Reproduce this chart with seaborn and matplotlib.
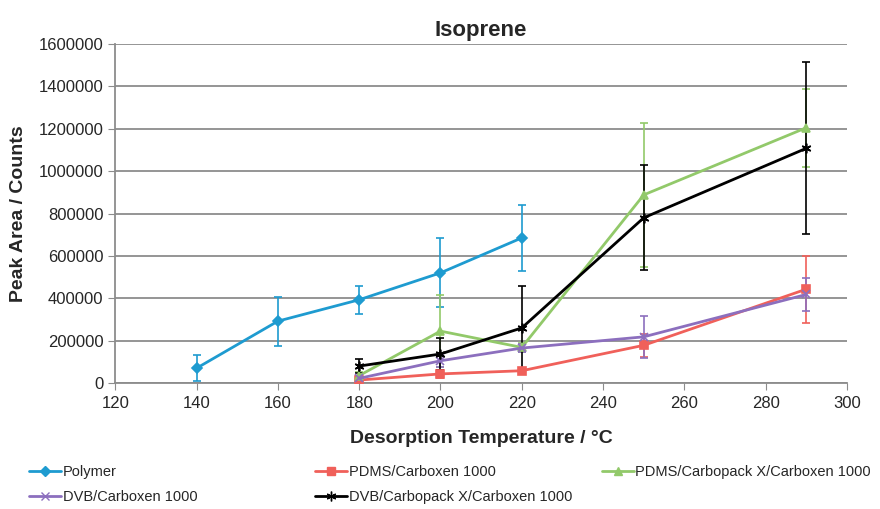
import numpy as np
import pandas as pd
import matplotlib
matplotlib.use("Agg")
import matplotlib.pyplot as plt
import seaborn as sns
from matplotlib.lines import Line2D

series_names = ["Polymer", "PDMS/Carboxen 1000", "PDMS/Carbopack X/Carboxen 1000",
                "DVB/Carboxen 1000", "DVB/Carbopack X/Carboxen 1000"]

polymer_x = [140, 160, 180, 200, 220]
polymer_y = [70000, 292000, 393000, 520000, 685000]
polymer_err = [60000, 115000, 65000, 163000, 157000]

pdms_cbx_x = [180, 200, 220, 250, 290]
pdms_cbx_y = [14000, 43000, 58000, 178000, 443000]
pdms_cbx_err = [8000, 20000, 10000, 55000, 158000]

pdms_cpx_x = [180, 200, 220, 250, 290]
pdms_cpx_y = [35000, 245000, 168000, 888000, 1205000]
pdms_cpx_err = [15000, 170000, 20000, 340000, 185000]

dvb_cbx_x = [180, 200, 220, 250, 290]
dvb_cbx_y = [22000, 105000, 165000, 218000, 418000]
dvb_cbx_err = [10000, 30000, 20000, 100000, 80000]

dvb_cpx_x = [180, 200, 220, 250, 290]
dvb_cpx_y = [80000, 137000, 260000, 780000, 1108000]
dvb_cpx_err = [35000, 75000, 200000, 248000, 405000]

colors = ["#1E9BD0", "#F0605A", "#92C96A", "#8C6FBE", "#000000"]
markers = ["D", "s", "^", "x", (6, 2, 0)]
msizes = [5, 6, 6, 6, 7]

xs = [polymer_x, pdms_cbx_x, pdms_cpx_x, dvb_cbx_x, dvb_cpx_x]
ys = [polymer_y, pdms_cbx_y, pdms_cpx_y, dvb_cbx_y, dvb_cpx_y]
errs = [polymer_err, pdms_cbx_err, pdms_cpx_err, dvb_cbx_err, dvb_cpx_err]

sns.set_style("white")
plt.rcParams['font.family'] = ['Liberation Sans', 'DejaVu Sans']

fig = plt.figure(figsize=(8.8, 5.09), dpi=100)
ax = fig.add_axes([0.131, 0.2475, 0.8315, 0.666])

for name, x, y, e, c, m, ms in zip(series_names, xs, ys, errs, colors, markers, msizes):
    df = pd.DataFrame({"x": x, "y": y})
    ax.errorbar(x, y, yerr=e, fmt="none", ecolor=c, elinewidth=1.2, capsize=3, capthick=1.2, zorder=2)
    sns.lineplot(data=df, x="x", y="y", ax=ax, color=c, marker=m, markersize=ms,
                 markeredgecolor=c, markeredgewidth=1.2, linewidth=2, zorder=3, label=None)

ax.set_xlim(120, 300)
ax.set_ylim(0, 1600000)
ax.set_xticks(np.arange(120, 301, 20))
ax.set_yticks(np.arange(0, 1600001, 200000))
ax.set_yticklabels([f"{v:d}" for v in range(0, 1600001, 200000)])
ax.yaxis.grid(True, color="#8C8C8C", linewidth=1.3)
ax.xaxis.grid(False)
ax.set_axisbelow(True)
for s in ["top", "right"]:
    ax.spines[s].set_visible(False)
for s in ["left", "bottom"]:
    ax.spines[s].set_color("#8C8C8C")
    ax.spines[s].set_linewidth(1.3)
ax.tick_params(axis="x", which="both", direction="out", length=5, color="#8C8C8C",
               labelsize=12, pad=4, bottom=True)
ax.tick_params(axis="y", direction="out", length=5, color="#8C8C8C", labelsize=12, left=True)
ax.set_xlabel("Desorption Temperature / °C", fontsize=14, fontweight="bold", labelpad=14)
ax.set_ylabel("Peak Area / Counts", fontsize=14, fontweight="bold", labelpad=8)
ax.set_title("Isoprene", fontsize=16, fontweight="bold", pad=6)
if ax.get_legend():
    ax.get_legend().remove()

handles = [Line2D([0], [0], color=c, marker=m, markersize=ms, markeredgecolor=c, linewidth=2)
           for c, m, ms in zip(colors, markers, msizes)]

def add_leg(idx, xpos):
    fig.legend([handles[i] for i in idx], [series_names[i] for i in idx],
               loc="upper left", bbox_to_anchor=(xpos, 0.087), frameon=False,
               fontsize=10.5, handlelength=2.2, handletextpad=0.1, labelspacing=0.75,
               borderaxespad=0, borderpad=0)

add_leg([0, 3], 0.033)
add_leg([1, 4], 0.358)
add_leg([2], 0.684)

fig.savefig("out.png", dpi=100)
